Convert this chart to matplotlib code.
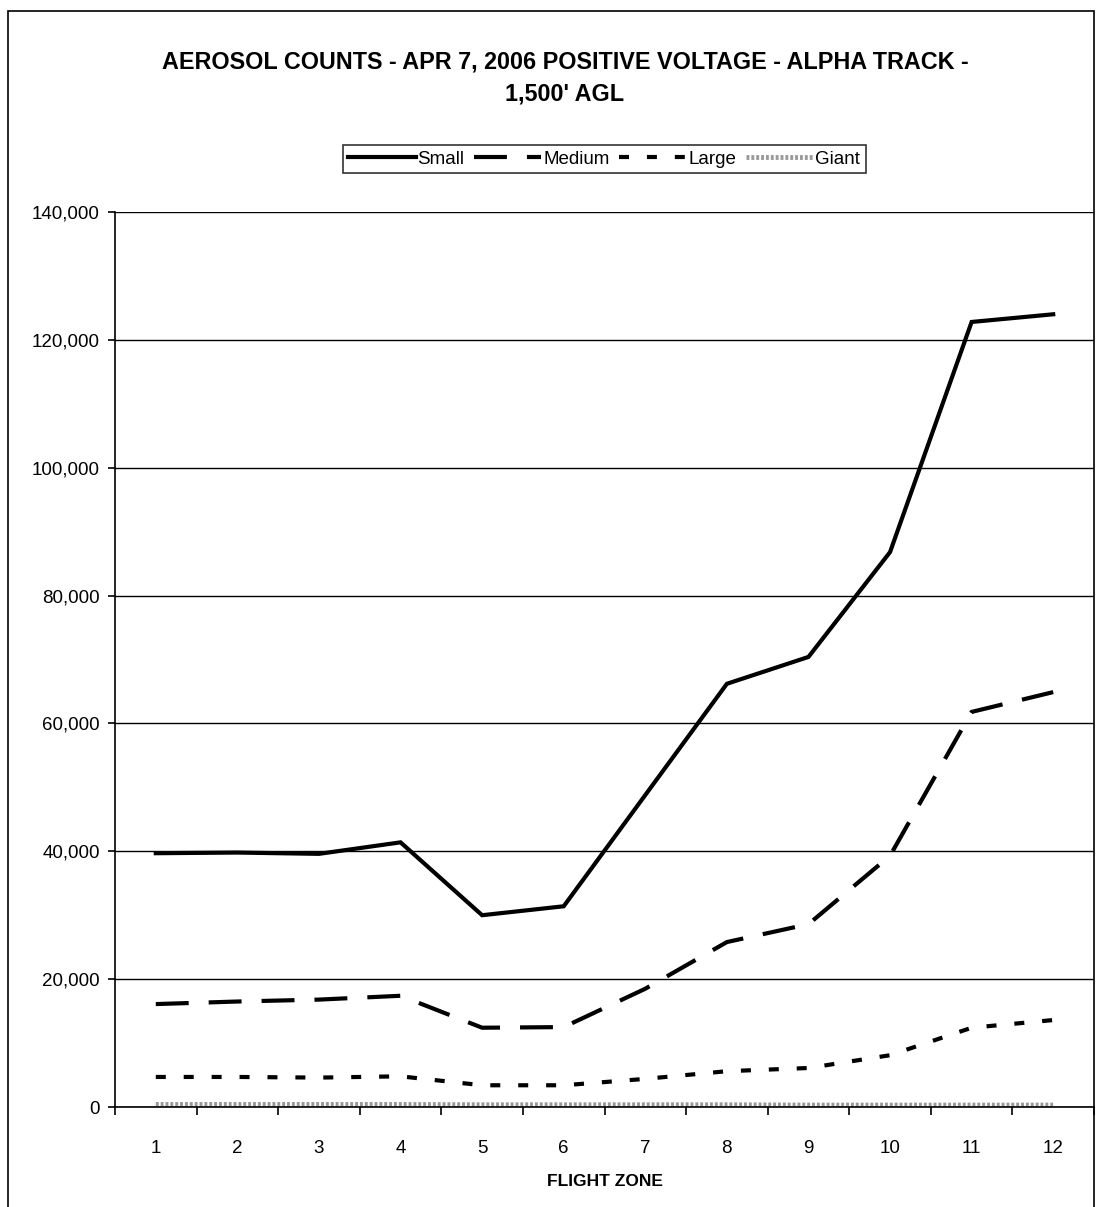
import matplotlib
matplotlib.use("Agg")
import matplotlib.pyplot as plt
from matplotlib.ticker import FuncFormatter, FixedLocator
from matplotlib.patches import Rectangle

zones = [1, 2, 3, 4, 5, 6, 7, 8, 9, 10, 11, 12]
small = [39700, 39800, 39600, 41400, 30000, 31400, 48800, 66200, 70400, 86800, 122800, 124000]
medium = [16100, 16500, 16800, 17400, 12400, 12500, 18500, 25800, 28600, 39300, 61800, 64900]
large = [4700, 4700, 4600, 4800, 3400, 3400, 4400, 5600, 6100, 8100, 12400, 13600]
giant = [400, 400, 400, 400, 350, 350, 350, 350, 300, 300, 300, 300]

title = "AEROSOL COUNTS - APR 7, 2006 POSITIVE VOLTAGE - ALPHA TRACK -\n1,500' AGL"
xlabel = "FLIGHT ZONE"

plt.rcParams['font.family'] = ['Liberation Sans', 'DejaVu Sans']

fig = plt.figure(figsize=(10.97, 12.07), dpi=100)
fig.patch.set_facecolor('white')

# outer chart border
fig.add_artist(Rectangle((8 / 1097, -0.01), (1094 - 8) / 1097, 1 - 11 / 1207 + 0.01,
                         transform=fig.transFigure, fill=False, lw=1.2, ec='black'))

ax = fig.add_axes([115 / 1097, 1 - 1107 / 1207, (1094 - 115) / 1097, (1107 - 212) / 1207])

lw = 3.0
ax.plot(zones, small, color='black', lw=lw, solid_joinstyle='miter', label='Small')
ax.plot(zones, medium, color='black', lw=lw, linestyle=(0, (7.9, 4.8)), label='Medium')
ax.plot(zones, large, color='black', lw=lw, linestyle=(0, (2.4, 4.3)), label='Large')
ax.plot(zones, giant, color='#9a9a9a', lw=3.5, linestyle=(0, (0.6, 0.4)), label='Giant')

ax.set_xlim(0.5, 12.5)
ax.set_ylim(0, 140000)

ax.yaxis.set_major_locator(FixedLocator(range(0, 140001, 20000)))
ax.yaxis.set_major_formatter(FuncFormatter(lambda v, p: f"{int(v):,}"))
ax.grid(axis='y', color='black', lw=1.0)
ax.set_axisbelow(True)

ax.set_xticks(zones)
ax.set_xticklabels([str(z) for z in zones])
ax.set_xticks([z + 0.5 for z in range(0, 13)], minor=True)
ax.tick_params(axis='x', which='major', length=0, pad=24, labelsize=13.5)
ax.tick_params(axis='x', which='minor', length=6, width=1.2, direction='out')
ax.tick_params(axis='y', length=5, width=1.2, direction='out', labelsize=13.5, pad=6)

for side in ['top', 'right']:
    ax.spines[side].set_visible(False)
ax.spines['left'].set_linewidth(1.2)
ax.spines['bottom'].set_linewidth(1.2)

ax.set_xlabel(xlabel, fontsize=12.5, fontweight='bold', labelpad=12)

fig.text(0.515, 1 - 50 / 1207, title, ha='center', va='top', fontsize=16.8,
         fontweight='bold', linespacing=1.5)

leg = fig.legend(loc='center', bbox_to_anchor=(604 / 1097, 1 - 159 / 1207), ncol=4,
                 frameon=True, fancybox=False, edgecolor='black', fontsize=13.5,
                 handlelength=3.6, handletextpad=0.1, columnspacing=0.5,
                 borderpad=0.3, borderaxespad=0)
leg.get_frame().set_linewidth(1.2)

fig.savefig('out.png', dpi=100, facecolor='white')
